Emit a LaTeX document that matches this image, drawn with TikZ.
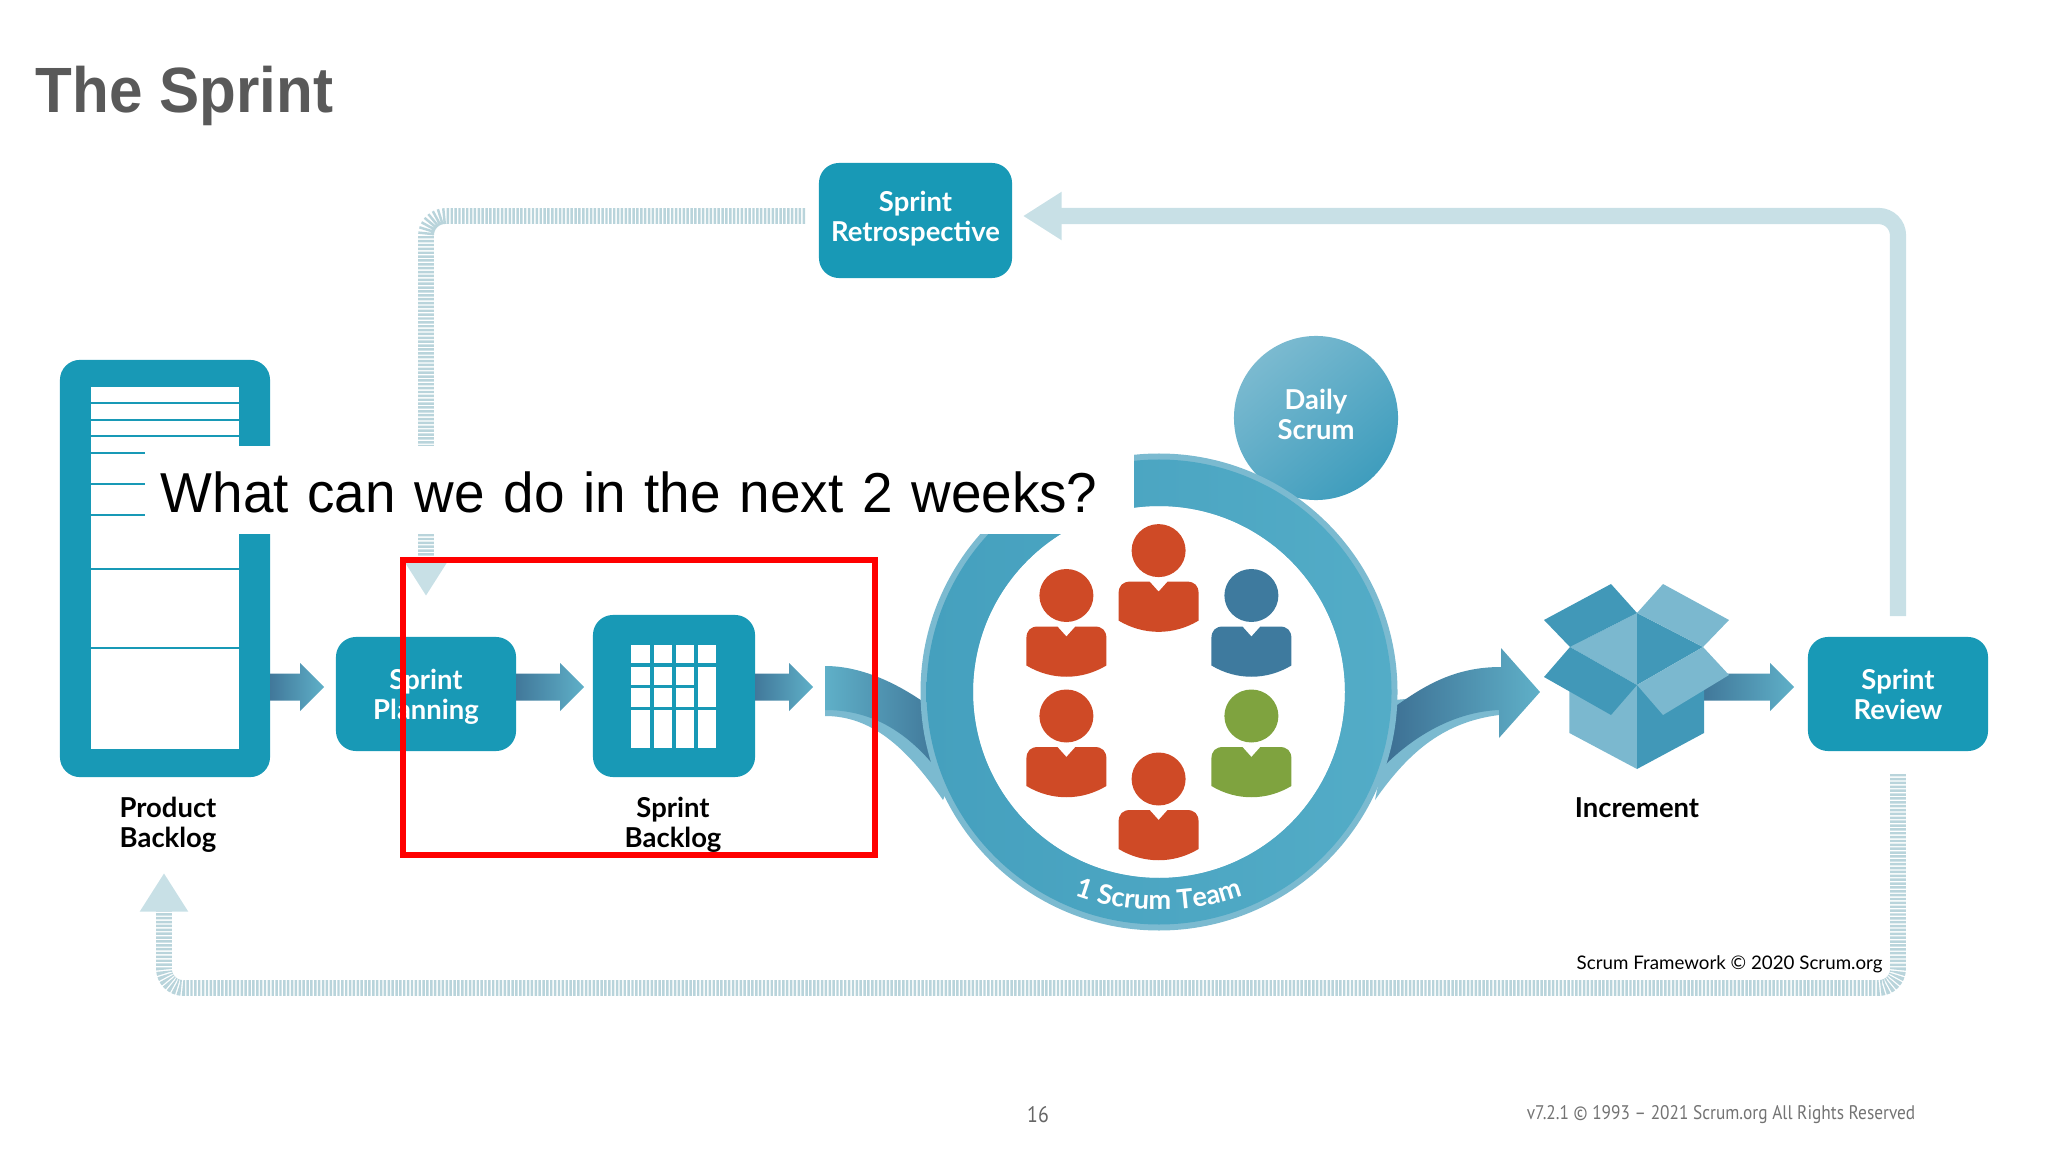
\documentclass[tikz,border=0pt]{standalone}
\usepackage{fontspec}
\setmainfont{Lato}
\newfontfamily\titlefont[FakeStretch=0.94]{Liberation Sans}
\newfontfamily\askfont[FakeStretch=0.975]{Liberation Sans}
\newfontfamily\footfont[FakeStretch=0.88]{PT Sans}
\usetikzlibrary{arrows.meta,calc,decorations.text}

\definecolor{boxteal}{HTML}{1899B6}
\definecolor{ringblue}{HTML}{4CA7C3}
\definecolor{ringleft}{HTML}{45A0BE}
\definecolor{ringright}{HTML}{53ACC7}
\definecolor{ringedge}{HTML}{7BBAD0}
\definecolor{flowlight}{HTML}{5FB0C8}
\definecolor{flowdark}{HTML}{41789A}
\definecolor{flowdeep}{HTML}{3C6E92}
\definecolor{dailyend}{HTML}{3F9DBD}
\definecolor{feedback}{HTML}{C8E0E6}
\definecolor{feedhatch}{HTML}{B9D4DB}
\definecolor{personred}{HTML}{CF4A26}
\definecolor{personblue}{HTML}{3E7A9E}
\definecolor{persongreen}{HTML}{7FA33F}
\definecolor{cratedark}{HTML}{4198B8}
\definecolor{cratelight}{HTML}{7BB8CF}

\newcommand{\lblsize}{\fontsize{7.8pt}{8.5pt}\selectfont}
\newcommand{\teamfont}{\bfseries\fontsize{7.7pt}{9pt}\selectfont\color{white}}
\newcommand{\person}[3]{
   \begin{scope}[shift={(#1,#2)}]
    \fill[#3] (0,0) ellipse[x radius=27,y radius=26.5];
    \fill[#3] (-40,70) -- (-40,43) .. controls (-40,35) and (-36,31) .. (-28,31)
     -- (-9,31) -- (0,41) -- (9,31) -- (28,31) .. controls (36,31) and (40,35) .. (40,43)
     -- (40,70) .. controls (15,85) and (-15,85) .. (-40,70) -- cycle;
   \end{scope}
}
\newcommand{\flowarrow}[2]{
   \shade[left color=flowdark,right color=flowlight] ($(#1)+(0,-13.5)$)
    -- ($(#2)+(-24,-13.5)$) -- ($(#2)+(-24,-24)$) -- (#2) -- ($(#2)+(-24,24)$)
    -- ($(#2)+(-24,13.5)$) -- ($(#1)+(0,13.5)$) -- cycle;
}

\tikzset{
   eventbox/.style={fill=boxteal,rounded corners=5.7pt,inner sep=0pt,text=white,
    align=center,font=\lblsize\bfseries},
   darklabel/.style={align=center,font=\lblsize\bfseries,text=black,inner sep=0pt},
   feedsolid/.style={draw=feedback,line width=4.6pt,rounded corners=5.5pt,
    -{Triangle[length=11pt,width=13pt,color=feedback]}},
   feedhash/.style={draw=feedhatch,line width=4.5pt,rounded corners=5.5pt,
    dash pattern=on .7pt off .4pt},
   hashtip/.style={-{Triangle[length=11pt,width=13pt,color=feedback]}},
   panelline/.style={draw=boxteal,line width=.7pt},
   gridline/.style={draw=boxteal,line width=1pt},
}

\begin{document}
\begin{tikzpicture}[x=0.01cm,y=-0.01cm]
   \useasboundingbox (0,0) rectangle (2048,1152);
   \node (title) at (35,113) [anchor=base west,inner sep=0pt,text=black!65] {\titlefont\fontsize{18.2pt}{20pt}\selectfont\bfseries The Sprint};

   % backlog panel
   \node (productbacklog) at (165,568.5) [eventbox,minimum width=2.1cm,minimum height=4.17cm] {};
   \fill[white] (91,387) rectangle (239,749);
   \draw[panelline] (91,403) -- (239,403);
   \draw[panelline] (91,420) -- (239,420);
   \draw[panelline] (91,436) -- (239,436);
   \draw[panelline] (91,453) -- (145,453);
   \draw[panelline] (91,484) -- (145,484);
   \draw[panelline] (91,515) -- (145,515);
   \draw[panelline] (91,569) -- (239,569);
   \draw[panelline] (91,648) -- (239,648);
   \node (productlabel) at (168,824.5) [darklabel] {Product\\Backlog};

   % event boxes
   \node (planning) at (426,694) [eventbox,minimum width=1.8cm,minimum height=1.14cm] {\rule{0pt}{7.6pt}Sprint\\Planning};
   \node (sprintbacklog) at (674,696) [eventbox,minimum width=1.62cm,minimum height=1.62cm] {};
   \node (backloglabel) at (673,824.5) [darklabel] {Sprint\\Backlog};
   \node (retro) at (915.5,220.5) [eventbox,minimum width=1.93cm,minimum height=1.15cm] {Sprint\\Retrospective\rule[-2.4pt]{0pt}{1pt}};
   \node (review) at (1898,694) [eventbox,minimum width=1.8cm,minimum height=1.14cm] {Sprint\\Review};

   % board on the sprint backlog
   \fill[white] (631,645) rectangle (716,748);
   \draw[gridline] (652,645) -- (652,748);
   \draw[gridline] (673.8,645) -- (673.8,748);
   \draw[gridline] (695.8,645) -- (695.8,748);
   \draw[gridline] (631,665) -- (716,665);
   \draw[gridline] (631,686.5) -- (695.8,686.5);
   \draw[gridline] (631,708.4) -- (716,708.4);

   % feedback loops
   \coordinate (retroin) at (1023,216);
   \coordinate (retroout) at (805,216);
   \coordinate (reviewup) at (1898,616);
   \coordinate (reviewdown) at (1898,774);
   \coordinate (planin) at (426,596);
   \coordinate (productin) at (164,873);
   \draw[feedsolid] (reviewup) -- (1898,216) -- (retroin);
   \draw[feedhash,hashtip] (retroout) -- (426,216) -- (planin);
   \draw[feedhash,hashtip] (reviewdown) -- (1898,988) -- (164,988) -- (productin);

   % straight flow arrows
   \coordinate (productout) at (270,687);
   \coordinate (planinflow) at (324,687);
   \coordinate (planout) at (516,687);
   \coordinate (backloginflow) at (584,687);
   \coordinate (backlogout) at (755,687);
   \coordinate (backlogend) at (813,687);
   \coordinate (crateout) at (1704,687);
   \coordinate (reviewin) at (1794,687);
   \flowarrow{productout}{planinflow}
   \flowarrow{planout}{backloginflow}
   \flowarrow{backlogout}{backlogend}
   \flowarrow{crateout}{reviewin}

   % bands in and out of the team ring
   \fill[ringedge] (825,666) -- (825,716) .. controls (870,716) and (905,745) .. (943,800) -- (960,760) -- (922,702) -- cycle;
   \shade[left color=flowlight,right color=flowdark] (825,666) .. controls (860,666) and (895,682) .. (925,703)
    -- (936,768) .. controls (905,730) and (870,710) .. (825,710) -- cycle;
   \fill[ringedge] (1375,800) .. controls (1410,750) and (1445,722) .. (1499,715) -- (1499,690) -- (1395,700) -- cycle;
   \shade[left color=flowdeep,right color=flowlight] (1393,708) .. controls (1425,685) and (1455,667) .. (1501,667)
    -- (1501,648) -- (1540,692) -- (1499,738) -- (1499,710) .. controls (1455,712) and (1415,735) .. (1384,766) -- cycle;

   % team ring
   \node (daily) at (1316,418) [circle,minimum size=1.64cm,inner sep=0pt,text=white,align=center,font=\lblsize\bfseries,
    top color=ringedge,bottom color=dailyend,shading angle=40] {Daily\\Scrum\rule[-2.3pt]{0pt}{1pt}};
   \fill[ringedge,even odd rule] (1159,692) circle[radius=238.5] circle[radius=186];
   \shade[left color=ringleft,right color=ringright,even odd rule] (1159,692) circle[radius=232.5] circle[radius=186];
   \path[decorate,decoration={text along path,text align=center,text={|\teamfont|1 Scrum Team}}]
    (1042,879.4) .. controls (1106.6,919.8) and (1211.4,919.8) .. (1276,879.4);

   \person{1158.6}{550.6}{personred}
   \person{1066.4}{595.5}{personred}
   \person{1251.4}{595.5}{personblue}
   \person{1066.4}{716}{personred}
   \person{1251.4}{716}{persongreen}
   \person{1158.6}{779}{personred}

   % crate
   \fill[cratelight] (1569.4,680) -- (1637,685) -- (1637,769) -- (1569.4,733) -- cycle;
   \fill[cratedark] (1704,680) -- (1637,685) -- (1637,769) -- (1704,733) -- cycle;
   \fill[cratelight] (1570,647) -- (1637,613) -- (1637,685) -- cycle;
   \fill[cratedark] (1703,647) -- (1637,613) -- (1637,685) -- cycle;
   \fill[cratedark] (1611,584) -- (1544,620) -- (1570,647) -- (1637,613) -- cycle;
   \fill[cratelight] (1663,584) -- (1729,620) -- (1703,647) -- (1637,613) -- cycle;
   \fill[cratedark] (1570,647) -- (1544,677) -- (1611,715) -- (1637,685) -- cycle;
   \fill[cratelight] (1703,647) -- (1729,675) -- (1663,715) -- (1637,685) -- cycle;
   \node (incrementlabel) at (1637,808) [darklabel] {Increment};

   \node (credit) at (1576,969) [anchor=base west,inner sep=0pt,text=black,font=\fontsize{5.33pt}{6pt}\selectfont] {Scrum Framework © 2020 Scrum.org};

   % spoken question over the slide
   \node (question) at (145,490) [anchor=west,fill=white,inner xsep=.15cm,inner ysep=0pt,text width=9.58cm,minimum height=.88cm,
    font=\askfont\fontsize{16pt}{18pt}\selectfont] {\rule{0pt}{13.2pt}What can we do in the next 2 weeks?};
   \node (highlight) at (639,707.5) [draw=red,line width=1.7pt,minimum width=4.72cm,minimum height=2.95cm,inner sep=0pt] {};

   % footer
   \node (pagenum) at (1038,1122) [anchor=base,inner sep=0pt,text=black!60,font=\footfont\fontsize{6.4pt}{7pt}\selectfont] {16};
   \node (version) at (1916,1119) [anchor=base east,inner sep=0pt,text=black!55,font=\footfont\fontsize{5.6pt}{6pt}\selectfont] {v7.2.1 © 1993 – 2021 Scrum.org All Rights Reserved};
\end{tikzpicture}
\end{document}
